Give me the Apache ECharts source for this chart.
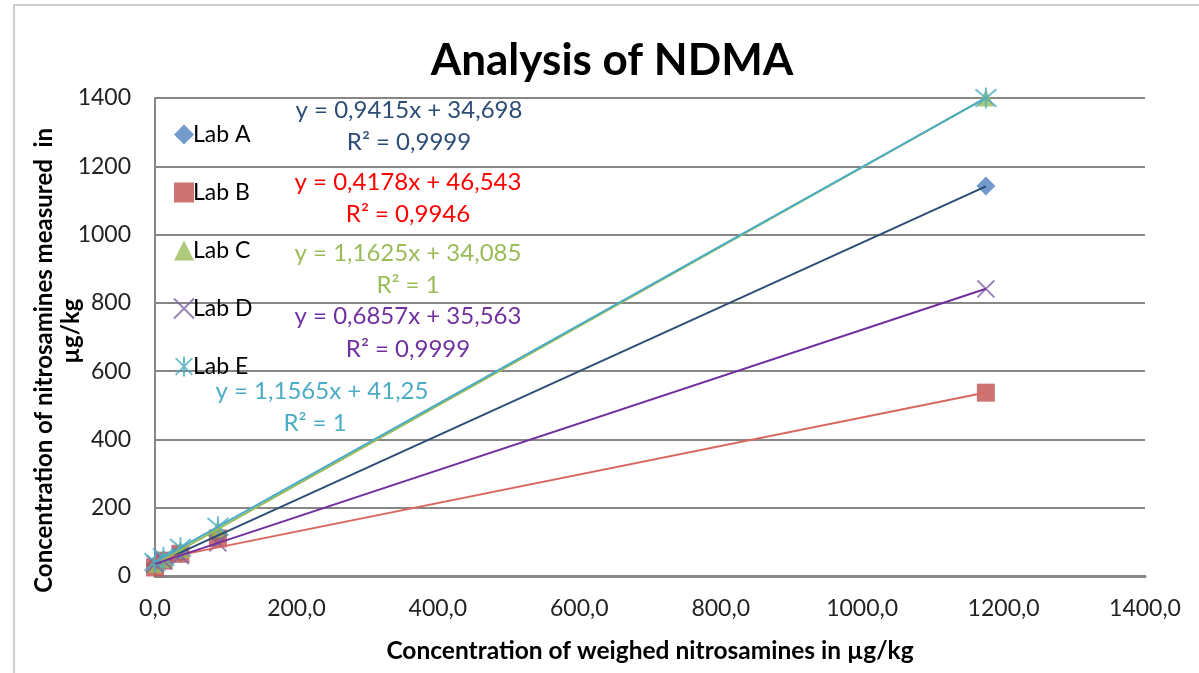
<!DOCTYPE html>
<html>
<head>
<meta charset="utf-8">
<script src="https://cdn.jsdelivr.net/npm/echarts@6/dist/echarts.min.js"></script>
<style>
html,body{margin:0;padding:0;background:#fff;}
#c{width:1199px;height:673px;}
</style>
</head>
<body>
<div id="c"></div>
<script>
// ---- data ----
const labs = ['Lab A', 'Lab B', 'Lab C', 'Lab D', 'Lab E'];
const xWeighed = [0, 12, 36, 89, 1175];
const labA = [33, 47, 69, 117, 1142];
const labB = [25, 45, 65, 110, 537];
const labC = [34, 48, 76, 138, 1400];
const labD = [35, 45, 60, 97, 841];
const labE = [41, 55, 83, 144, 1400];
const slopes = [0.9415, 0.4178, 1.1625, 0.6857, 1.1565];
const intercepts = [34.698, 46.543, 34.085, 35.563, 41.25];
const eqTexts = ['y = 0,9415x + 34,698', 'y = 0,4178x + 46,543', 'y = 1,1625x + 34,085', 'y = 0,6857x + 35,563', 'y = 1,1565x + 41,25'];
const r2Texts = ['R² = 0,9999', 'R² = 0,9946', 'R² = 1', 'R² = 0,9999', 'R² = 1'];
const xTicks = [0, 200, 400, 600, 800, 1000, 1200, 1400];
const yTicks = [0, 200, 400, 600, 800, 1000, 1200, 1400];

const values = [labA, labB, labC, labD, labE];
const markerColors = ['#4F81BD', '#C0504D', '#9BBB59', '#8064A2', '#4BACC6'];
const lineColors = ['#2C4D75', '#D9675F', '#9BBB59', '#7030A0', '#4BACC6'];
const eqColors = ['#2C4D75', '#FF0000', '#9BBB59', '#7030A0', '#4BACC6'];
const symbols = ['diamond', 'rect', 'triangle', 'path://M0 0L10 10M10 0L0 10', 'path://M0 0L10 10M10 0L0 10M5 -1L5 11'];
const symSizes = [19, 18, 17, 17, 21];
const stroked = [false, false, false, true, true];
const FONT = 'Lato, "Open Sans", sans-serif';

const series = [];
labs.forEach((name, i) => {
  series.push({
    name: name,
    type: 'scatter',
    data: xWeighed.map((x, k) => [x, values[i][k]]),
    symbol: symbols[i],
    symbolSize: symSizes[i],
    itemStyle: stroked[i]
      ? { color: 'rgba(0,0,0,0)', borderColor: markerColors[i], borderWidth: 2 }
      : { color: markerColors[i] },
    z: 2 + i
  });
});
labs.forEach((name, i) => {
  const x0 = Math.min.apply(null, xWeighed), x1 = Math.max.apply(null, xWeighed);
  series.push({
    name: name + ' trend',
    type: 'line',
    data: [[x0, slopes[i] * x0 + intercepts[i]], [x1, slopes[i] * x1 + intercepts[i]]],
    showSymbol: false,
    symbol: 'none',
    lineStyle: { color: lineColors[i], width: 2 },
    z: 10 + i,
    silent: true
  });
});

const eqPos = [[409, 110], [408, 182], [408, 253], [408, 316], [322, 391]];
const r2Pos = [[409, 142], [408, 214], [408, 285], [408, 349], [315, 423]];
const graphics = [];
labs.forEach((n, i) => {
  graphics.push({ type: 'text', x: eqPos[i][0], y: eqPos[i][1], z: 100,
    style: { text: eqTexts[i], fill: eqColors[i], font: '24px ' + FONT, textAlign: 'center', textVerticalAlign: 'middle' } });
  graphics.push({ type: 'text', x: r2Pos[i][0], y: r2Pos[i][1], z: 100,
    style: { text: r2Texts[i], fill: eqColors[i], font: '24px ' + FONT, textAlign: 'center', textVerticalAlign: 'middle' } });
});
graphics.push({ type: 'rect', shape: { x: 14, y: 5, width: 1200, height: 700 }, style: { fill: 'none', stroke: '#BFBFBF', lineWidth: 1.5 }, z: 0, silent: true });

const chart = echarts.init(document.getElementById('c'), null, { renderer: 'canvas' });
chart.setOption({
  backgroundColor: '#fff',
  animation: false,
  title: {
    text: 'Analysis of NDMA', left: 607, top: 34, textAlign: 'center',
    textStyle: { fontFamily: FONT, fontSize: 44, fontWeight: 'bold', color: '#000' }
  },
  legend: {
    data: labs, orient: 'vertical', left: 168, top: 118, itemGap: 35,
    itemWidth: 20, itemHeight: 20,
    textStyle: { fontFamily: FONT, fontSize: 23, color: '#000', padding: [0, 0, 0, -6] }
  },
  grid: { left: 155, right: 54, top: 98, bottom: 97 },
  xAxis: {
    type: 'value', min: xTicks[0], max: xTicks[xTicks.length - 1], interval: 200,
    name: 'Concentration of weighed nitrosamines in µg/kg', nameLocation: 'middle', nameGap: 63,
    nameTextStyle: { fontFamily: FONT, fontSize: 24.5, fontWeight: 'bold', color: '#000' },
    axisLine: { lineStyle: { color: '#868686', width: 3 } },
    axisTick: { show: false },
    splitLine: { show: false },
    axisLabel: { fontFamily: FONT, fontSize: 23, color: '#222', margin: 21,
      formatter: v => v.toFixed(1).replace('.', ',') }
  },
  yAxis: {
    type: 'value', min: yTicks[0], max: yTicks[yTicks.length - 1], interval: 200,
    name: 'Concentration of nitrosamines measured  in\u00a0\u00a0\u00a0\u00a0\u00a0\u00a0\u00a0\u00a0\n\u00a0\u00a0µg/kg', nameLocation: 'middle', nameGap: 70, nameRotate: 90,
    nameMoveOverlap: false,
    nameTextStyle: { fontFamily: FONT, fontSize: 24, fontWeight: 'bold', color: '#000', lineHeight: 27 },
    axisLine: { show: true, lineStyle: { color: '#868686', width: 2 } },
    axisTick: { show: false },
    splitLine: { lineStyle: { color: '#868686', width: 2 } },
    axisLabel: { fontFamily: FONT, fontSize: 23, color: '#222', margin: 24,
      formatter: v => String(v) }
  },
  graphic: graphics,
  series: series
});
</script>
</body>
</html>
